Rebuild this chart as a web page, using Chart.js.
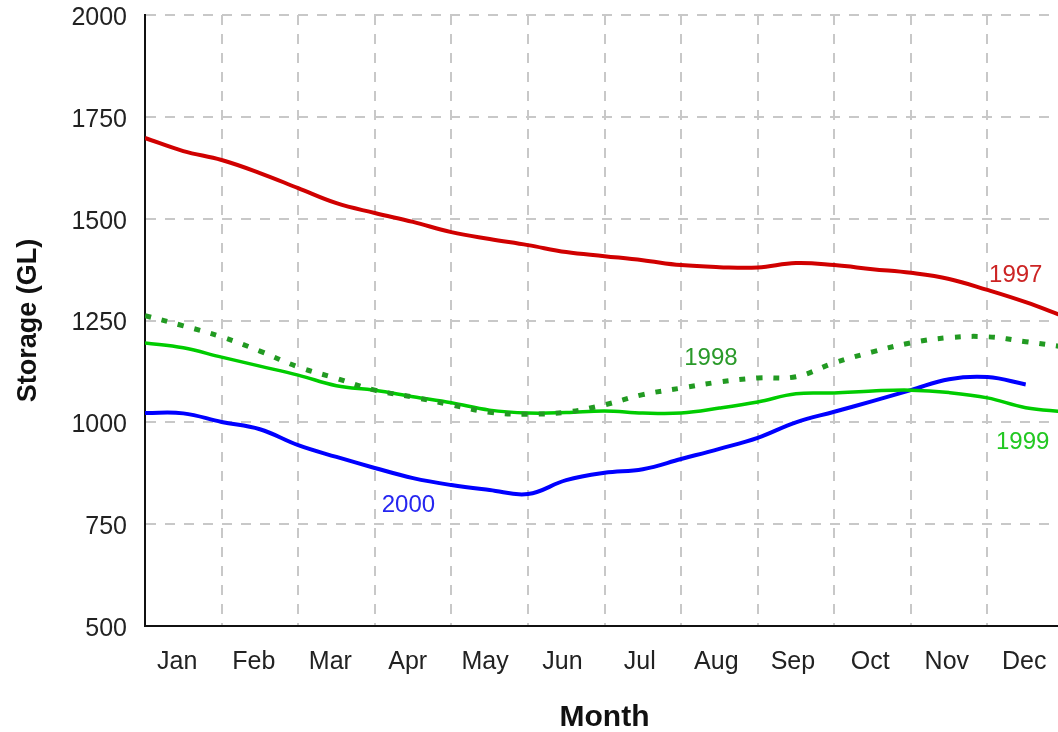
<!DOCTYPE html>
<html>
<head>
<meta charset="utf-8">
<script src="https://cdn.jsdelivr.net/npm/chart.js@4.4.1/dist/chart.umd.min.js"></script>
<style>
  html, body { margin: 0; padding: 0; background: #fff; overflow: hidden; }
  #wrap { width: 1064px; height: 732px; }
</style>
</head>
<body>
<div id="wrap"><canvas id="c" width="1064" height="732"></canvas></div>
<script>
// Month names (x-axis labels), their label positions, and month boundaries (months since Jan 1)
const months = ['Jan','Feb','Mar','Apr','May','Jun','Jul','Aug','Sep','Oct','Nov','Dec'];
const monthLabelPos = [0.42,1.42,2.42,3.43,4.44,5.45,6.46,7.46,8.46,9.47,10.47,11.48];
const monthBounds = [0,1,2,3,4,5,6,7,8,9,10,11,12];
const samplePos = [0,0.5,1,1.5,2,2.5,3,3.5,4,4.5,5,5.5,6,6.5,7,7.5,8,8.5,9,9.5,10,10.5,11,11.5,12];

// Storage (GL) values, half-month samples
const storage1997 = [1698,1666,1644,1612,1575,1538,1514,1492,1467,1450,1435,1418,1408,1398,1386,1381,1380,1391,1386,1376,1367,1352,1325,1295,1260];
const storage1998 = [1262,1237,1210,1175,1136,1108,1079,1062,1043,1025,1020,1025,1043,1068,1084,1099,1109,1112,1146,1173,1195,1208,1210,1198,1185];
const storage1999 = [1195,1183,1160,1138,1116,1090,1079,1063,1048,1030,1023,1024,1028,1023,1023,1035,1050,1070,1072,1077,1079,1073,1060,1036,1026];
const storage2000 = [1023,1022,1001,983,944,915,888,863,846,834,824,858,876,885,910,935,962,1000,1026,1052,1079,1106,1111,1093];

// Year labels: [text, month position, storage value]
const yearLabels = [
  ['1997', 11.37, 1362],
  ['1998', 7.39, 1157],
  ['1999', 11.46, 950],
  ['2000', 3.44, 795]
];
const labelColors = {'1997':'#cc2424','1998':'#2a9a2a','1999':'#22c822','2000':'#2626f0'};

const yTicks = [500, 750, 1000, 1250, 1500, 1750, 2000];

function pts(vals) { return vals.map((v, i) => ({x: samplePos[i], y: v})); }

const GRID = '#c8c8c8';
const CLEAR = 'rgba(0,0,0,0)';
const FAMILY = '"Liberation Sans", Arial, sans-serif';

const labelPlugin = {
  id: 'yearLabels',
  afterDatasetsDraw(chart) {
    const {ctx, scales: {x, y}} = chart;
    ctx.save();
    ctx.font = '24px ' + FAMILY;
    ctx.textAlign = 'center';
    ctx.textBaseline = 'middle';
    yearLabels.forEach(([t, mx, v]) => {
      ctx.fillStyle = labelColors[t];
      ctx.fillText(t, x.getPixelForValue(mx), y.getPixelForValue(v));
    });
    ctx.restore();
  }
};

function monthName(v) {
  const i = monthLabelPos.indexOf(v);
  return i >= 0 ? months[i] : '';
}

new Chart(document.getElementById('c'), {
  type: 'line',
  data: {
    datasets: [
      { label: '1997', data: pts(storage1997), borderColor: '#d00000', borderWidth: 4, tension: 0.4, pointRadius: 0 },
      { label: '1998', data: pts(storage1998), borderColor: '#229a22', borderWidth: 5, borderDash: [6, 11], borderCapStyle: 'butt', tension: 0.4, pointRadius: 0 },
      { label: '1999', data: pts(storage1999), borderColor: '#00cc00', borderWidth: 3.5, tension: 0.4, pointRadius: 0 },
      { label: '2000', data: pts(storage2000), borderColor: '#0000ff', borderWidth: 4, tension: 0.4, pointRadius: 0 }
    ]
  },
  options: {
    responsive: false,
    animation: false,
    events: [],
    layout: { padding: { top: 15, right: 0, bottom: 0, left: 0 } },
    plugins: { legend: { display: false }, tooltip: { enabled: false } },
    scales: {
      x: {
        type: 'linear',
        min: 0, max: 12,
        afterBuildTicks(scale) {
          const vals = monthBounds.concat(monthLabelPos).sort((a, b) => a - b);
          scale.ticks = vals.map(v => ({value: v}));
        },
        afterFit(scale) {
          scale.height = 106;
          scale.paddingLeft = 0; scale.paddingRight = 0;
        },
        ticks: {
          autoSkip: false, maxRotation: 0, minRotation: 0,
          padding: 21,
          color: '#222',
          font: { family: FAMILY, size: 25 },
          callback: (v) => monthName(v)
        },
        grid: {
          drawTicks: false,
          lineWidth: 2,
          color: (c) => (c.tick && monthBounds.includes(c.tick.value) && c.tick.value !== 0) ? GRID : CLEAR
        },
        border: { display: true, color: '#111', width: 2, dash: [10, 9] },
        title: {
          display: true, text: 'Month', color: '#111',
          font: { family: FAMILY, size: 30, weight: 'bold' },
          padding: { top: 0, bottom: -4 }
        }
      },
      y: {
        type: 'linear',
        min: 500, max: 2000,
        afterBuildTicks(scale) {
          scale.ticks = yTicks.map(v => ({value: v}));
        },
        afterFit(scale) {
          scale.width = 145;
          scale.paddingTop = 0; scale.paddingBottom = 0;
        },
        ticks: {
          padding: 18,
          labelOffset: 3,
          color: '#222',
          font: { family: FAMILY, size: 25 },
          callback: (v) => String(v)
        },
        grid: {
          drawTicks: false,
          lineWidth: 2,
          color: (c) => (c.tick && c.tick.value !== 500) ? GRID : CLEAR
        },
        border: { display: true, color: '#111', width: 2, dash: [10, 9] },
        title: {
          display: true, text: 'Storage (GL)', color: '#111',
          font: { family: FAMILY, size: 27, weight: 'bold' },
          padding: { top: 12, bottom: 0 }
        }
      }
    }
  },
  plugins: [labelPlugin]
});
</script>
</body>
</html>
